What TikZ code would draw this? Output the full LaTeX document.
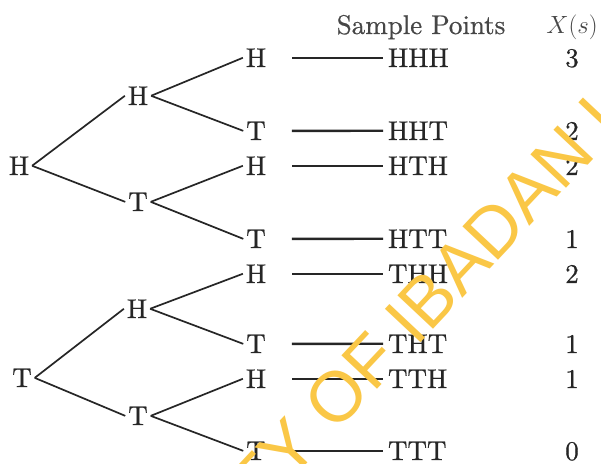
\documentclass[tikz,border=0pt]{standalone}
\usepackage{fontspec}
\setmainfont{lmroman10-regular}[Extension=.otf, ItalicFont=lmroman10-italic, FakeBold=0.7, AutoFakeBold=0.7]
\newfontfamily\wmfont{Liberation Sans}
\definecolor{ink}{RGB}{38,38,38}
\definecolor{hd}{RGB}{70,70,70}
\definecolor{wm}{RGB}{250,199,70}
\begin{document}
\begin{tikzpicture}[x=1pt,y=1pt,
  lab/.style={inner sep=3pt,outer sep=0pt,anchor=base,text=ink,font=\fontsize{27}{30}\selectfont\bfseries},
  branch/.style={draw=ink,line width=1.7pt},
  tie/.style={draw=ink,line width=2.4pt,shorten <=23pt,shorten >=2pt}]
\useasboundingbox (0,0) rectangle (601,463);
\fill[white] (0,0) rectangle (601,463);
% header
\node[lab,text=hd] (hdr) at (421,429) {Sample Points};
\node[lab,text=hd] (hdx) at (572,429) {$X(s)$};
% roots
\node[lab] (r1) at (19,288) {H};
\node[lab] (r2) at (22,76) {T};
% level 1
\node[lab] (a1) at (138,358) {H};
\node[lab] (a2) at (138,252) {T};
\node[lab] (a3) at (137,145) {H};
\node[lab] (a4) at (138,38) {T};
% leaves
\node[lab] (l1) at (256,396) {H};
\node[lab] (l2) at (256,323) {T};
\node[lab] (l3) at (256,288) {H};
\node[lab] (l4) at (256,215) {T};
\node[lab] (l5) at (256,180) {H};
\node[lab] (l6) at (256,110) {T};
\node[lab] (l7) at (256,75) {H};
\node[lab] (l8) at (256,3) {T};
% sample points
\foreach \i/\y/\s/\v in {1/396/HHH/3,2/323/HHT/2,3/288/HTH/2,4/215/HTT/1,5/180/THH/2,6/110/THT/1,7/75/TTH/1,8/3/TTT/0}{
  \node[lab,anchor=base west] (s\i) at (385,\y) {\s};
  \node[lab] (v\i) at (572,\y) {\v};
}
% branches
\draw[branch] (r1.east) -- (a1.west);
\draw[branch] (r1.east) -- (a2.west);
\draw[branch] (r2.east) -- (a3.west);
\draw[branch] (r2.east) -- (a4.west);
\draw[branch] (a1.east) -- (l1.west);
\draw[branch] (a1.east) -- (l2.west);
\draw[branch] (a2.east) -- (l3.west);
\draw[branch] (a2.east) -- (l4.west);
\draw[branch] (a3.east) -- (l5.west);
\draw[branch] (a3.east) -- (l6.west);
\draw[branch] (a4.east) -- (l7.west);
\draw[branch] (a4.east) -- (l8.west);
% ties
\foreach \i in {1,...,8}{ \draw[tie] (l\i.east) -- (s\i.west); }
% watermark
\begin{scope}
\clip (0,0) rectangle (601,463);
\node[inner sep=0pt,anchor=base west,rotate=46.8,text=wm,font=\wmfont\fontsize{71}{71}\selectfont] (wmk) at (30,-296) {UNIVERSITY OF IBADAN LIBRARY};
\end{scope}
\end{tikzpicture}
\end{document}
